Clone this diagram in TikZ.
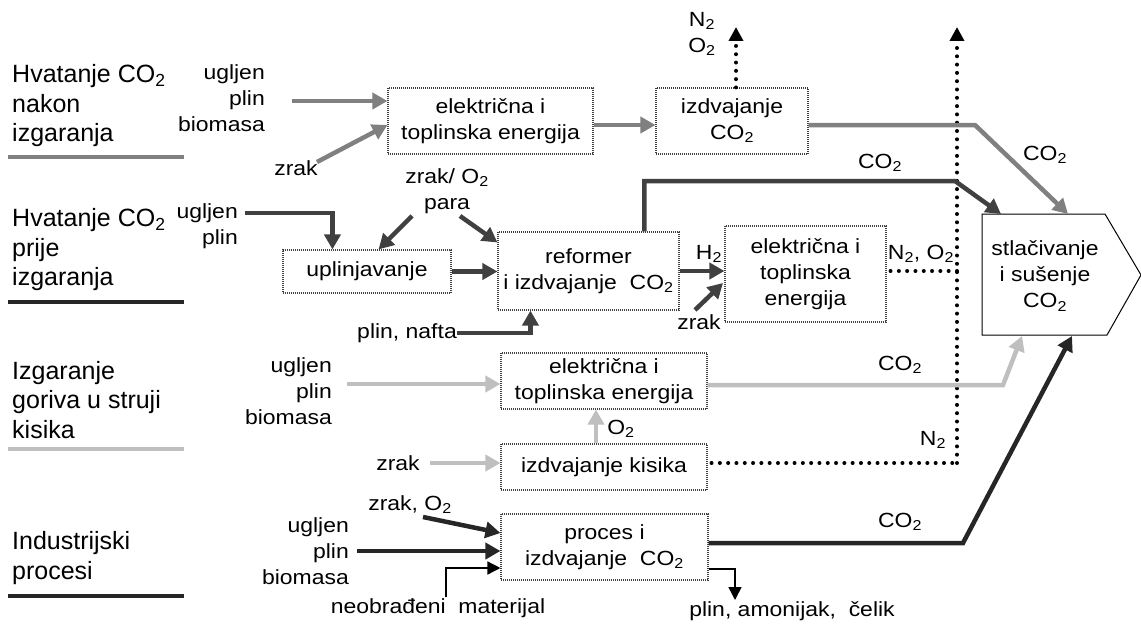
\documentclass[tikz,border=0pt]{standalone}
\usepackage{fontspec}
\setmainfont{Liberation Sans}[FakeStretch=1.12]
\newfontfamily\leftfont{Liberation Sans}
\usetikzlibrary{arrows.meta,calc}
\definecolor{cA}{HTML}{808080}
\definecolor{cB}{HTML}{404040}
\definecolor{cC}{HTML}{BFBFBF}
\definecolor{cD}{HTML}{262626}
\newcommand{\mysub}[1]{\textsubscript{#1}}
\begin{document}
\begin{tikzpicture}[x=1pt,y=-1pt,
  txt/.style={font=\fontsize{20.5}{26}\selectfont, inner sep=0pt, align=center},
  rtxt/.style={txt, align=right, anchor=east},
  box/.style={txt, draw=black!75, dash pattern=on 1pt off 1pt, line width=1.1pt},
  grp/.style={font=\leftfont\fontsize{25}{29.5}\selectfont, align=left, anchor=west, inner sep=0pt},
  fat/.style={line width=4.5pt, -{Triangle[length=15pt,width=16pt]}},
  thin/.style={line width=1.5pt, black, -{Triangle[length=13pt,width=13pt]}},
  dots/.style={line width=4pt, black, dash pattern=on 0pt off 8.3pt, line cap=round},
  dotarrow/.style={dots, -{Triangle[length=14pt,width=14pt]}},
  uline/.style={line width=4.5pt}
]
\useasboundingbox (0,0) rectangle (1141,626);

% ---------- left group labels ----------
\node[grp] (g1) at (12,106) {Hvatanje CO\mysub{2}\\nakon\\izgaranja};
\draw[uline, cA] (8,157) -- (184,157);
\node[grp] (g2) at (12,250) {Hvatanje CO\mysub{2}\\prije\\izgaranja};
\draw[uline, cD] (8,302) -- (184,302);
\node[grp] (g3) at (12,400) {Izgaranje\\goriva u struji\\kisika};
\draw[uline, cC] (8,449) -- (184,449);
\node[grp] (g4) at (12,558) {Industrijski\\procesi};
\draw[uline, cD] (8,596) -- (184,596);

% ---------- boxes ----------
\node[box, minimum width=205, minimum height=66] (b1) at (490.5,121) {električna i\\toplinska energija};
\node[box, minimum width=152, minimum height=66] (b2) at (732,121) {izdvajanje\\CO\mysub{2}};
\node[box, minimum width=168, minimum height=43] (bU) at (367,271.5) {uplinjavanje};
\node[box, minimum width=181, minimum height=78] (bR) at (588.5,271) {reformer\\i izdvajanje\ \ CO\mysub{2}};
\node[box, minimum width=161, minimum height=96] (bE) at (805.5,274) {električna i\\toplinska\\energija};
\node[box, minimum width=206, minimum height=56] (b3) at (604,381) {električna i\\toplinska energija};
\node[box, minimum width=206, minimum height=46] (bK) at (604,467) {izdvajanje kisika};
\node[box, minimum width=207, minimum height=66] (b4) at (604.5,547) {proces i\\izdvajanje\ \ CO\mysub{2}};

% compression box
\draw[line width=1pt] (982,214) -- (1105,214) -- (1141,275) -- (1107,335) -- (982,335) -- cycle;
\node[txt] (st) at (1045,276) {stlačivanje\\i sušenje\\CO\mysub{2}};
\coordinate (stA) at (1068,214);
\coordinate (stB) at (1001,214);
\coordinate (stC) at (1022,336);
\coordinate (stD) at (1072,336);

% vertical vent line
\coordinate (vb) at (957,463);
\coordinate (vt) at (957,27);
\draw[dotarrow] (vb) -- (vt);

% ---------- row 1 ----------
\node[rtxt] (in1) at (265,98) {ugljen\\plin\\biomasa};
\node[txt] (zr1) at (296,168) {zrak};
\coordinate (r1a) at (292,101);
\coordinate (r1b) at (317,162);
\draw[fat, cA] (r1a) -- (r1a -| b1.west);
\draw[fat, cA] (r1b) -- ($(b1.west)+(0,4)$);
\draw[fat, cA] ($(b1.east)+(0,4)$) -- ($(b2.west)+(0,4)$);
\node[txt] (n2o2) at (702,34) {N\mysub{2}\\O\mysub{2}};
\coordinate (b2t) at ($(b2.north)+(4,0)$);
\draw[dotarrow] (b2t) -- (b2t |- vt);
\draw[fat, cA] ($(b2.east)+(0,4)$) -- (975,125) -- (stA);
\node[txt] (co1) at (1045,155) {CO\mysub{2}};

% ---------- row 2 ----------
\node[rtxt] (in2) at (238,226) {ugljen\\plin};
\coordinate (r2a) at (245,213);
\draw[fat, cB] (r2a) -| ($(bU.north west)+(50,0)$);
\node[txt] (zo) at (447,191) {zrak/ O\mysub{2}\\para};
\draw[fat, cB] (412,216) -- ($(bU.north east)+(-73,0)$);
\draw[fat, cB] (460,216) -- ($(bR.north west)+(0,11)$);
\draw[fat, cB] (bU.east) -- (bU.east -| bR.west);
\node[txt, anchor=east] (pn) at (457,333) {plin, nafta};
\draw[fat, cB] (pn.east) -| ($(bR.south west)+(33,0)$);
\draw[fat, cB] ($(bR.north west)+(147,0)$) |- (955,181) -- (stB);
\node[txt] (co2) at (880,163) {CO\mysub{2}};
\draw[fat, cB] (bR.east) -- (bR.east -| bE.west);
\node[txt] (h2) at (709,254) {H\mysub{2}};
\node[txt] (zr2) at (699,322) {zrak};
\draw[fat, cB] (695,310) -- (723,283);
\coordinate (bEo) at ($(bE.east)+(4,-3)$);
\draw[dots] (bEo) -- (bEo -| vb);
\node[txt] (no2) at (921,254) {N\mysub{2}, O\mysub{2}};

% ---------- row 3 ----------
\node[rtxt] (in3) at (332,391) {ugljen\\plin\\biomasa};
\coordinate (r3a) at (347,384);
\draw[fat, cC] (r3a) -- (r3a -| b3.west);
\draw[fat, cC] ($(b3.east)+(0,4)$) -- (1003,385) -- (stC);
\node[txt] (co3) at (900,365) {CO\mysub{2}};
\draw[fat, cC] ($(bK.north)+(-8,0)$) -- ($(b3.south)+(-8,0)$);
\node[txt] (o2) at (621,429) {O\mysub{2}};
\node[txt] (zr3) at (398,463) {zrak};
\coordinate (r3b) at ($(zr3.east)+(10,0)$);
\draw[fat, cC] (r3b) -- (r3b -| bK.west);
\coordinate (bKo) at ($(bK.east)+(4,-4)$);
\draw[dots] (bKo) -- (bKo -| vb);
\node[txt] (n2) at (933,440) {N\mysub{2}};

% ---------- row 4 ----------
\node[txt] (zo4) at (410,505) {zrak, O\mysub{2}};
\draw[fat, cD] (423,517) -- ($(b4.west)+(0,-14)$);
\node[rtxt] (in4) at (349,551) {ugljen\\plin\\biomasa};
\coordinate (r4a) at (357,551);
\draw[fat, cD] (r4a) -- (r4a -| b4.west);
\node[txt] (nm) at (438,608) {neobrađeni\ \ materijal};
\draw[thin] (446,597) |- ($(b4.west)+(0,21)$);
\draw[fat, cD] ($(b4.east)+(0,-4)$) -- (963,543) -- (stD);
\node[txt] (co4) at (900,522) {CO\mysub{2}};
\draw[thin] ($(b4.east)+(0,22)$) -| (735,600);
\node[txt] (out) at (792,611) {plin, amonijak,\ \ čelik};
\end{tikzpicture}
\end{document}
